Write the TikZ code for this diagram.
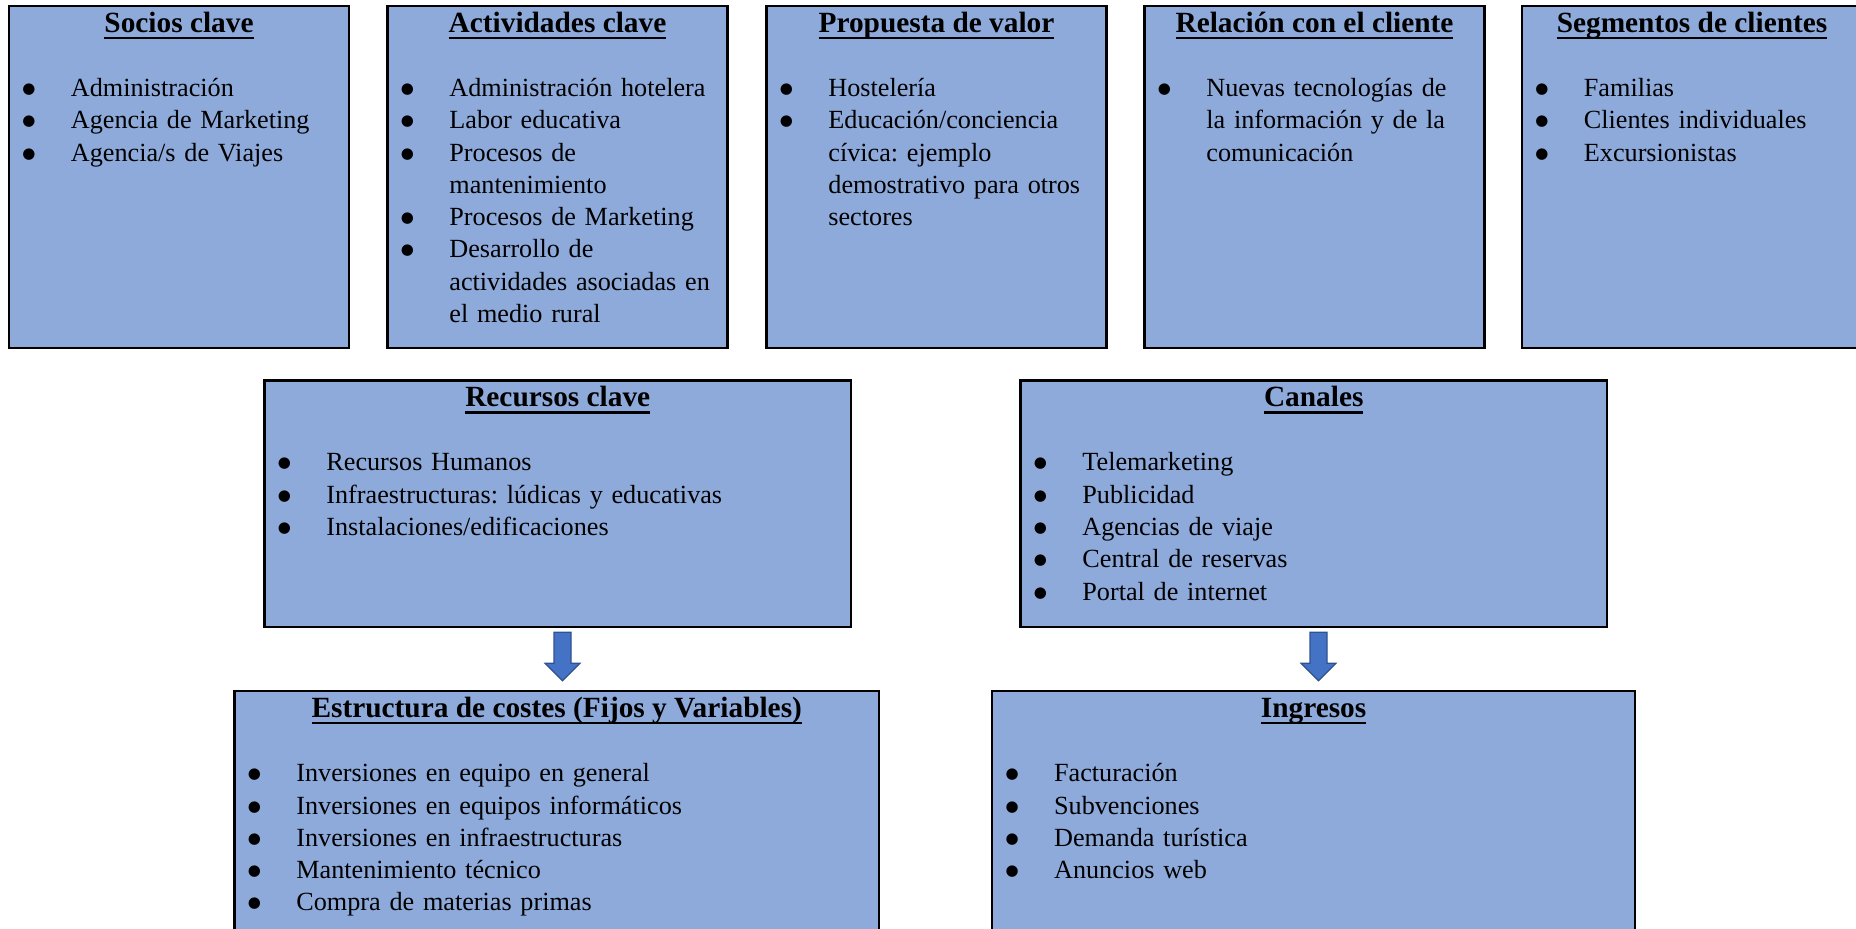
\documentclass[tikz,border=0pt]{standalone}
\usepackage{fontspec}
\setmainfont{Liberation Serif}
\newfontfamily\dotfont{DejaVu Sans}
\usetikzlibrary{calc}
\frenchspacing

\definecolor{cellfill}{RGB}{142,170,219}
\definecolor{arrowfill}{RGB}{68,114,196}
\definecolor{arrowline}{RGB}{47,82,143}

\newcommand\bodyfont{\fontsize{13.1pt}{16.15pt}\selectfont}
\newcommand\headfont{\fontsize{14.67pt}{17pt}\selectfont\bfseries}
\newsavebox\headbox
% underlined heading, rule at a fixed depth below the baseline
\newcommand\ulhead[1]{\sbox\headbox{#1}\rlap{\rule[-3.3pt]{\wd\headbox}{1.2pt}}\usebox\headbox}
% round bullet hung in the left margin of a list line
\newcommand\bigdot{\raisebox{1.5pt}[0pt][0pt]{\dotfont\fontsize{7.5pt}{7.5pt}\selectfont ●}}
\newcommand\itm{\leavevmode\llap{\makebox[0pt]{\bigdot}\hspace{21pt}}}

\tikzset{
  cell/.style 2 args={draw=black, line width=1.1pt, fill=cellfill, rectangle,
    anchor=north west, inner sep=0pt, outer sep=0pt,
    minimum width=#1*0.5pt, minimum height=#2*0.5pt},
  head/.style={anchor=base, inner sep=0pt, font=\headfont},
  items/.style={anchor=base west, inner sep=0pt, align=left, text width=300pt, font=\bodyfont},
  barrow/.style={fill=arrowfill, draw=arrowline, line width=0.6pt, line join=miter}
}

% block arrow hanging down from a named start point
\newcommand\blockarrow[1]{%
  \draw[barrow] (#1) ++(-8.5,0) -- ++(17,0) -- ++(0,31) -- ++(9,0)
    -- ++(-17.5,17.5) -- ++(-17.5,-17.5) -- ++(9,0) -- cycle;}

\begin{document}
\begin{tikzpicture}[x=0.5pt, y=-0.5pt]
\useasboundingbox (0,0) rectangle (1856,929);
\clip (0,0) rectangle (1856,929);

% ---- top row -------------------------------------------------------
\node[cell={340}{342}] (soc) at (9,6) {};
\node[head] (socH) at ($(soc.north)+(0,26.5)$) {\ulhead{Socios clave}};
\node[items] (socL) at ($(soc.north west)+(61.5,90.5)$) {%
  \itm Administración\\
  \itm Agencia de Marketing\\
  \itm Agencia/s de Viajes};

\node[cell={340}{342}] (act) at (387.5,6) {};
\node[head] (actH) at ($(act.north)+(0,26.5)$) {\ulhead{Actividades clave}};
\node[items] (actL) at ($(act.north west)+(61.5,90.5)$) {%
  \itm Administración hotelera\\
  \itm Labor educativa\\
  \itm Procesos de\\
  mantenimiento\\
  \itm Procesos de Marketing\\
  \itm Desarrollo de\\
  actividades asociadas en\\
  el medio rural};

\node[cell={340}{342}] (pro) at (766.5,6) {};
\node[head] (proH) at ($(pro.north)+(0,26.5)$) {\ulhead{Propuesta de valor}};
\node[items] (proL) at ($(pro.north west)+(61.5,90.5)$) {%
  \itm Hostelería\\
  \itm Educación/conciencia\\
  cívica: ejemplo\\
  demostrativo para otros\\
  sectores};

\node[cell={340}{342}] (rel) at (1144.5,6) {};
\node[head] (relH) at ($(rel.north)+(0,26.5)$) {\ulhead{Relación con el cliente}};
\node[items] (relL) at ($(rel.north west)+(61.5,90.5)$) {%
  \itm Nuevas tecnologías de\\
  la información y de la\\
  comunicación};

\node[cell={340}{342}] (seg) at (1522,6) {};
\node[head] (segH) at ($(seg.north)+(0,26.5)$) {\ulhead{Segmentos de clientes}};
\node[items] (segL) at ($(seg.north west)+(61.5,90.5)$) {%
  \itm Familias\\
  \itm Clientes individuales\\
  \itm Excursionistas};

% ---- middle row ----------------------------------------------------
\node[cell={586.5}{246.8}] (rec) at (264.5,380.5) {};
\node[head] (recH) at ($(rec.north)+(0,26.5)$) {\ulhead{Recursos clave}};
\node[items] (recL) at ($(rec.north west)+(61.5,90.5)$) {%
  \itm Recursos Humanos\\
  \itm Infraestructuras: lúdicas y educativas\\
  \itm Instalaciones/edificaciones};

\node[cell={586.5}{246.8}] (can) at (1020.5,380.5) {};
\node[head] (canH) at ($(can.north)+(0,26.5)$) {\ulhead{Canales}};
\node[items] (canL) at ($(can.north west)+(61.5,90.5)$) {%
  \itm Telemarketing\\
  \itm Publicidad\\
  \itm Agencias de viaje\\
  \itm Central de reservas\\
  \itm Portal de internet};

% ---- bottom row ----------------------------------------------------
\node[cell={644.5}{300}] (cos) at (234.5,691.2) {};
\node[head] (cosH) at ($(cos.north)+(0,26.5)$) {\ulhead{Estructura de costes (Fijos y Variables)}};
\node[items] (cosL) at ($(cos.north west)+(61.5,90.5)$) {%
  \itm Inversiones en equipo en general\\
  \itm Inversiones en equipos informáticos\\
  \itm Inversiones en infraestructuras\\
  \itm Mantenimiento técnico\\
  \itm Compra de materias primas};

\node[cell={642.8}{300}] (ing) at (992.2,691.2) {};
\node[head] (ingH) at ($(ing.north)+(0,26.5)$) {\ulhead{Ingresos}};
\node[items] (ingL) at ($(ing.north west)+(61.5,90.5)$) {%
  \itm Facturación\\
  \itm Subvenciones\\
  \itm Demanda turística\\
  \itm Anuncios web};

% ---- block arrows between the rows ---------------------------------
\coordinate (recOut) at ($(rec.south)+(4.75,5)$);
\coordinate (canOut) at ($(can.south)+(4.75,5)$);
\blockarrow{recOut}
\blockarrow{canOut}
\end{tikzpicture}
\end{document}
